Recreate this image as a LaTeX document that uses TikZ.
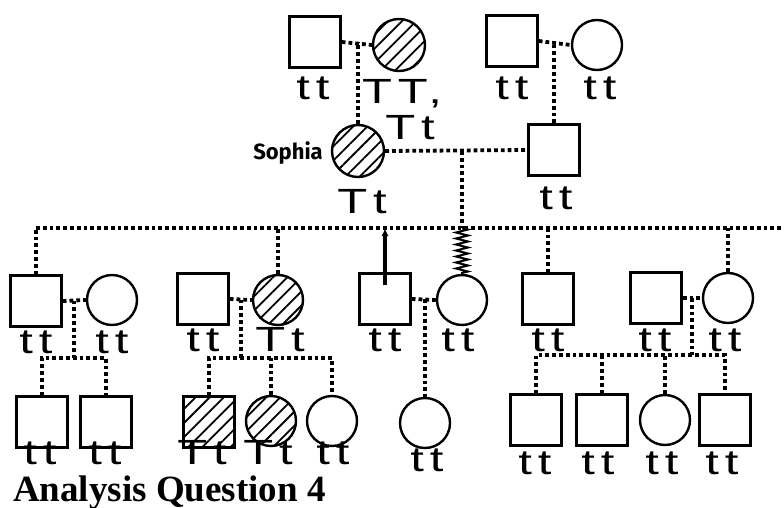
\documentclass[tikz,border=0pt]{standalone}
\usepackage{fontspec}
\newfontfamily\sophiafont{Fira Sans}
\newfontfamily\titlefont{Liberation Serif}
\newfontfamily\handfont[LetterSpace=12]{Liberation Sans}
\newcommand\hw[1]{\scalebox{1.4}[1]{#1}}
\usetikzlibrary{patterns.meta,decorations.pathmorphing,arrows.meta,calc}
\begin{document}
\begin{tikzpicture}[x=1pt,y=-1pt,
  sq/.style={draw,rectangle,line width=2.4pt,minimum size=51pt,inner sep=0pt},
  ci/.style={draw,circle,line width=2.4pt,minimum size=50pt,inner sep=0pt},
  hatch/.style={pattern={Lines[angle=45,distance=10pt,line width=1.8pt]}},
  rel/.style={line width=3.8pt,dash pattern=on 3.8pt off 3pt},
  geno/.style={font=\handfont\fontsize{35}{35}\selectfont,inner sep=0pt},
  arrowpen/.style={line width=3.5pt,-{Latex[length=8pt,width=7pt]}},
  wig/.style={line width=2pt,decorate,decoration={zigzag,amplitude=6pt,segment length=6pt}}]
\useasboundingbox[fill=white] (0,0) rectangle (784,508);
% generation 1
\node[sq] (p1) at (315,42) {};
\node[ci,hatch,minimum size=52pt] (p2) at (399,45) {};
\node[sq] (p3) at (512,41) {};
\node[ci] (p4) at (597,45) {};
% generation 2
\node[ci,hatch,minimum size=52pt] (so) at (358,151) {};
\node[sq] (hu) at (554,150) {};
% generation 3
\node[sq] (a) at (36,301) {};
\node[ci] (aw) at (112,300) {};
\node[sq] (b) at (203,299) {};
\node[ci,hatch] (bw) at (278,300) {};
\node[sq] (c) at (385,299) {};
\node[ci] (d) at (462,300) {};
\node[sq] (e) at (548,299) {};
\node[sq] (f) at (656,298) {};
\node[ci] (fw) at (728,298) {};
% generation 4
\node[sq] (g1) at (42,422) {};
\node[sq] (g2) at (106,422) {};
\node[sq,hatch] (h1) at (209,422) {};
\node[ci,hatch] (h2) at (271,421) {};
\node[ci] (h3) at (332,421) {};
\node[ci] (i) at (425,423) {};
\node[sq] (j1) at (536,420) {};
\node[sq] (j2) at (602,420) {};
\node[ci] (j3) at (665,420) {};
\node[sq] (j4) at (725,420) {};
% level coordinates
\coordinate (sibL) at (0,228);
\coordinate (sibR) at (784,228);
\coordinate (gl) at (0,358);
\coordinate (jl) at (0,355);
% relationship lines
\draw[rel] (p1.east) -- (p2.west);
\draw[rel] (so.north) -- (so.north |- p1.east);
\draw[rel] (p3.east) -- (p4.west);
\draw[rel] (hu.north) -- (hu.north |- p3.east);
\draw[rel] (so.east) -- (hu.west);
\coordinate (m3) at (d.north |- so.east);
\draw[rel] (m3) -- (m3 |- sibL);
\draw[rel] (a.north |- sibL) -- (sibR);
\draw[rel] (a.north) -- (a.north |- sibL);
\draw[rel] (bw.north) -- (bw.north |- sibL);
\draw[rel] (e.north) -- (e.north |- sibL);
\draw[rel] (fw.north) -- (fw.north |- sibL);
\draw[arrowpen] ([yshift=-13pt]c.north) -- (c.north |- sibL);
\draw[wig] (d.north |- sibL) -- (d.north);
% gen 3 couples
\draw[rel] (a.east) -- (aw.west);
\coordinate (ma) at ($(a.east)!0.5!(aw.west)$);
\draw[rel] (ma) -- (ma |- gl);
\draw[rel] (g1.north) -- (g1.north |- gl) -- (g2.north |- gl) -- (g2.north);
\draw[rel] (b.east) -- (bw.west);
\coordinate (mb) at ($(b.east)!0.5!(bw.west)$);
\draw[rel] (mb) -- (mb |- gl);
\draw[rel] (h1.north) -- (h1.north |- gl) -- (h3.north |- gl) -- (h3.north);
\draw[rel] (h2.north) -- (h2.north |- gl);
\draw[rel] (c.east) -- (d.west);
\draw[rel] (i.north |- c.east) -- (i.north);
\draw[rel] (f.east) -- (fw.west);
\coordinate (mf) at ($(f.east)!0.5!(fw.west)$);
\draw[rel] (mf) -- (mf |- jl);
\draw[rel] (j1.north) -- (j1.north |- jl) -- (j4.north |- jl) -- (j4.north);
\draw[rel] (j2.north) -- (j2.north |- jl);
\draw[rel] (j3.north) -- (j3.north |- jl);
% labels
\node[font=\sophiafont\bfseries\fontsize{22}{22}\selectfont,anchor=east,inner sep=0pt] (sname) at (323,153) {Sophia};
\node[geno] (l1) at (313,88) {\hw{tt}};
\node[geno] (l2) at (402,94) {\hw{TT,}};
\node[geno] (l2b) at (410,128) {\hw{Tt}};
\node[geno] (l3) at (512,88) {\hw{tt}};
\node[geno] (l4) at (600,88) {\hw{tt}};
\node[geno] (lso) at (362,202) {\hw{Tt}};
\node[geno] (lhu) at (556,198) {\hw{tt}};
\node[geno] (la) at (36,342) {\hw{tt}};
\node[geno] (law) at (112,342) {\hw{tt}};
\node[geno] (lb) at (203,340) {\hw{tt}};
\node[geno] (lbw) at (280,340) {\hw{Tt}};
\node[geno] (lc) at (385,340) {\hw{tt}};
\node[geno] (ld) at (458,340) {\hw{tt}};
\node[geno] (le) at (548,340) {\hw{tt}};
\node[geno] (lf) at (655,340) {\hw{tt}};
\node[geno] (lfw) at (725,340) {\hw{tt}};
\node[geno] (lg1) at (40,453) {\hw{tt}};
\node[geno] (lg2) at (105,453) {\hw{tt}};
\node[geno] (lh1) at (202,453) {\hw{Tt}};
\node[geno] (lh2) at (268,453) {\hw{Tt}};
\node[geno] (lh3) at (333,453) {\hw{tt}};
\node[geno] (li) at (427,460) {\hw{tt}};
\node[geno] (lj1) at (535,463) {\hw{tt}};
\node[geno] (lj2) at (598,463) {\hw{tt}};
\node[geno] (lj3) at (662,463) {\hw{tt}};
\node[geno] (lj4) at (722,463) {\hw{tt}};
\node[font=\titlefont\bfseries\fontsize{37}{37}\selectfont,anchor=base west,inner sep=0pt] (title) at (13,501) {Analysis Question 4};
\end{tikzpicture}
\end{document}
